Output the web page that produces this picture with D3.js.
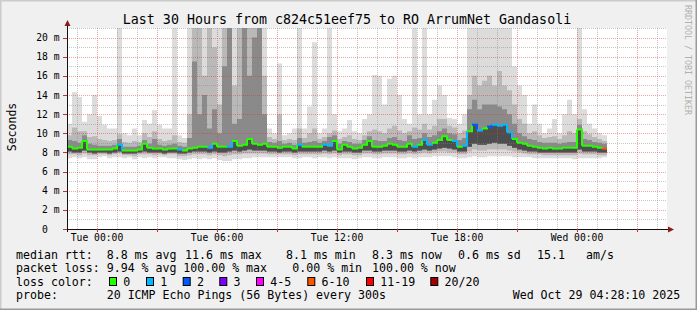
<!DOCTYPE html>
<html><head><meta charset="utf-8">
<script src="https://cdn.jsdelivr.net/npm/d3@7"></script>
<style>
body{margin:0;background:#f0f0f0}
svg{display:block}
text{font-family:"DejaVu Sans Mono",monospace;fill:#000}
</style></head>
<body><svg id="c" width="697" height="310"></svg>
<script>
// ---- data (values in ms) ----
const title = "Last 30 Hours from c824c51eef75 to RO ArrumNet Gandasoli";
const yTickValues = [0,2,4,6,8,10,12,14,16,18,20];
const yTickLabels = ["0  ","2 m","4 m","6 m","8 m","10 m","12 m","14 m","16 m","18 m","20 m"];
const xTickLabels = ["Tue 00:00","Tue 06:00","Tue 12:00","Tue 18:00","Wed 00:00"];
const xTickTimes = ["2025-10-28T00:00Z","2025-10-28T06:00Z","2025-10-28T12:00Z","2025-10-28T18:00Z","2025-10-29T00:00Z"];
const rangeStart = "2025-10-27T22:30Z", rangeEnd = "2025-10-29T04:30Z";
const stepMinutes = 15;
// median rtt per 15-minute step
const med = [8.6,8.4,8.5,9.2,8.3,8.3,8.3,8.3,8.3,8.4,8.8,8.2,8.2,8.2,8.3,8.9,8.5,8.4,8.4,8.3,
8.4,8.4,8.3,8.2,8.4,8.5,8.6,8.6,8.5,8.9,8.6,8.6,8.6,9.2,8.7,8.8,9.4,8.9,8.8,8.9,
8.6,8.6,8.5,8.6,8.6,8.4,8.8,8.6,8.6,8.6,8.6,8.8,8.7,9.2,8.3,8.8,8.6,8.4,8.5,8.8,
9.2,8.6,8.6,8.7,8.9,8.8,8.6,8.6,8.9,8.6,8.8,9.3,8.8,9.0,9.3,9.7,9.3,9.2,8.6,8.7,
10.2,10.9,10.3,10.5,10.7,10.9,10.8,10.9,10.1,9.4,9.0,8.9,8.7,8.6,8.5,8.4,8.5,8.4,8.4,8.5,
8.5,8.5,10.4,8.7,8.7,8.6,8.5,8.4];
// smoke: top of lightest, medium, dark bands
const smokeMax = [11.0,14.3,13.8,11.2,12.0,14.0,11.8,10.9,10.5,10.5,21,10.0,9.8,10.5,9.8,11.4,11.0,12.4,10.9,10.5,
10.5,21,9.8,9.5,21,21,21,21,21,21,21,21,21,21,21,21,21,21,21,21,
10.5,10.0,17.3,9.8,10.0,10.5,21,10.5,12.8,19.5,10.0,10.5,21,12.0,10.2,10.5,11.4,10.2,10.0,11.5,
12.0,16.1,16.0,13.0,15.7,16.0,14.0,11.5,11.0,21,12.0,21,12.0,13.5,15.0,14.0,11.6,11.5,11.0,12.0,
21,21,21,21,21,21,21,21,21,17.0,15.0,14.0,11.0,13.0,11.0,10.0,10.5,11.5,10.0,12.0,
13.5,12.0,21,12.5,11.0,10.5,10.0,9.8];
const smokeMid = [9.8,10.6,10.2,10.2,9.6,9.7,9.4,9.3,9.2,9.3,9.9,9.1,9.0,9.2,9.1,10.0,9.6,10.2,9.4,9.2,
9.3,9.8,9.1,9.0,12.0,21,21,16.0,21,19.0,13.0,21,21,15.0,21,21,21,21,21,16.0,
9.6,9.4,12.0,9.3,9.4,9.3,10.5,9.5,10.0,10.5,9.4,9.6,10.0,10.3,9.4,9.6,9.8,9.4,9.3,9.8,
10.2,10.4,10.2,10.0,10.5,10.8,10.3,10.0,10.2,10.6,10.4,11.0,10.4,10.8,11.5,11.5,10.8,10.6,10.0,10.3,
14.0,16.0,15.0,15.5,16.0,15.0,16.5,15.0,14.5,13.0,11.5,11.0,10.0,10.2,9.8,9.5,9.6,9.7,9.4,9.8,
10.2,10.0,11.5,10.2,9.9,9.6,9.4,9.2];
const smokeDark = [9.3,9.2,9.0,9.8,8.9,8.8,8.7,8.7,8.7,8.8,9.4,8.6,8.6,8.6,8.7,9.3,8.9,9.4,8.8,8.7,
8.8,8.9,8.7,8.6,9.5,17.5,12.0,14.0,10.5,12.5,10.0,17.0,21,11.0,11.5,21,16.0,20.0,21,12.0,
9.1,9.0,9.2,8.9,9.0,8.8,9.5,9.0,9.1,9.2,9.0,9.2,9.6,9.8,8.9,9.2,9.1,8.9,8.9,9.3,
9.7,9.3,9.2,9.2,9.5,9.6,9.3,9.2,9.8,9.4,9.5,10.0,9.6,9.8,10.2,10.5,10.0,9.9,9.3,9.5,
12.5,13.5,12.5,13.0,13.0,13.0,12.8,12.5,12.0,11.0,10.0,9.7,9.4,9.3,9.1,9.0,9.0,9.0,8.9,9.0,
9.1,9.1,10.9,9.4,9.3,9.1,9.0,8.9];
// smoke: bottom of dark, medium, lightest bands
const smokeDarkLow = [8.1,8.0,8.0,8.2,8.0,7.9,8.0,8.0,7.9,8.0,8.1,7.9,7.9,7.9,8.0,8.1,8.0,8.0,8.0,7.9,
8.0,8.0,7.9,7.9,8.0,8.1,8.1,8.1,8.0,8.1,8.0,8.0,8.1,8.2,8.1,8.2,8.3,8.2,8.2,8.2,
8.1,8.1,8.0,8.1,8.1,8.0,8.1,8.1,8.1,8.1,8.1,8.2,8.1,8.2,8.0,8.1,8.1,8.0,8.0,8.2,
8.2,8.1,8.1,8.2,8.2,8.2,8.1,8.1,8.2,8.1,8.2,8.3,8.2,8.3,8.4,8.5,8.4,8.3,8.1,8.1,
8.6,8.9,8.8,8.8,8.9,9.0,8.9,8.9,8.7,8.5,8.3,8.2,8.1,8.1,8.0,8.0,8.0,8.0,8.0,8.0,
8.0,8.0,8.3,8.1,8.1,8.1,8.0,8.0];
const smokeMidLow = [7.8,7.8,7.7,7.9,7.7,7.7,7.8,7.8,7.7,7.8,7.9,7.7,7.7,7.6,7.8,7.8,7.8,7.7,7.8,7.7,
7.8,7.8,7.6,7.6,7.7,7.8,7.8,7.8,7.7,7.8,7.7,7.6,7.7,7.8,7.8,7.9,7.9,7.9,7.9,7.9,
7.8,7.8,7.8,7.8,7.8,7.7,7.8,7.8,7.8,7.8,7.8,7.9,7.8,7.9,7.7,7.8,7.8,7.7,7.7,7.9,
7.9,7.8,7.8,7.9,7.9,7.9,7.8,7.8,7.9,7.8,7.9,8.0,7.9,8.0,8.1,8.1,8.0,8.0,7.8,7.8,
8.1,8.3,8.2,8.2,8.3,8.3,8.3,8.3,8.2,8.1,8.0,7.9,7.8,7.8,7.8,7.7,7.7,7.7,7.7,7.7,
7.7,7.7,7.9,7.8,7.8,7.8,7.7,7.7];
const smokeMin = [7.4,7.5,7.4,7.5,7.3,7.3,7.5,7.6,7.4,7.5,7.5,7.4,7.5,7.3,7.5,7.4,7.5,7.4,7.5,7.5,
7.4,7.4,7.3,7.2,7.3,7.4,7.3,7.4,7.3,7.4,7.2,7.1,7.1,7.3,7.3,7.4,7.4,7.5,7.5,7.5,
7.5,7.5,7.5,7.5,7.5,7.4,7.4,7.5,7.5,7.4,7.5,7.5,7.4,7.5,7.4,7.4,7.4,7.3,7.4,7.5,
7.5,7.4,7.4,7.5,7.5,7.5,7.4,7.4,7.5,7.4,7.5,7.5,7.5,7.6,7.6,7.6,7.6,7.5,7.4,7.4,
7.5,7.6,7.5,7.5,7.6,7.6,7.6,7.6,7.6,7.5,7.5,7.5,7.5,7.4,7.4,7.4,7.4,7.4,7.4,7.4,
7.4,7.3,7.4,7.4,7.4,7.4,7.4,7.5];
// loss class per step (index into lossColors)
const lossClass = [0,0,0,0,0,0,0,0,0,0,1,0,0,0,0,0,0,0,0,0,
0,0,1,0,0,0,0,0,1,0,0,0,1,0,0,0,0,0,0,0,
0,0,0,0,0,0,1,0,0,0,0,1,1,0,0,0,0,0,0,0,
0,0,0,0,0,0,0,0,0,1,0,1,1,0,0,0,0,1,0,1,
0,2,1,0,2,1,1,1,1,0,0,0,0,0,0,0,0,0,0,0,
0,0,0,0,0,0,0,5];
const lossLabels = ["0","1","2","3","4-5","6-10","11-19","20/20"];
const lossColors = ["#26ff00","#00b8ff","#0059ff","#7e00ff","#ff00ff","#ff5500","#ff0000","#a10000"];
const statsRtt = ["median rtt:","8.8 ms avg","11.6 ms max","8.1 ms min","8.3 ms now","0.6 ms sd","15.1","am/s"];
const statsLoss = ["packet loss:","9.94 % avg","100.00 % max","0.00 % min","100.00 % now"];
const probeText = ["probe:","20 ICMP Echo Pings (56 Bytes) every 300s","Wed Oct 29 04:28:10 2025"];

// ---- drawing ----
const svg = d3.select("#c");
const W = 697, H = 310;
const x = d3.scaleUtc().domain([new Date(rangeStart), new Date(rangeEnd)]).range([67, 667]);
const y = d3.scaleLinear().domain([0, 21]).range([229, 28]);

// frame
svg.append("rect").attr("width",W).attr("height",H).attr("fill","#f0f0f0");
svg.append("path").attr("d",`M0,${H} V0 H${W}`).attr("stroke","#cbcbcb").attr("stroke-width",3).attr("fill","none");
svg.append("path").attr("d",`M${W},0 V${H} H0`).attr("stroke","#999999").attr("stroke-width",3).attr("fill","none");
svg.append("rect").attr("x",67).attr("y",28).attr("width",600).attr("height",201).attr("fill","#fff");

const t0 = new Date(rangeStart).getTime();
const n = med.length;
const tAt = i => new Date(t0 + i * stepMinutes * 60000);
const pts = d3.range(n + 1).map(i => {
  const k = Math.min(i, n - 1);
  return {t: tAt(i), med: med[k], max: smokeMax[k], mid: smokeMid[k], dk: smokeDark[k],
          dkl: smokeDarkLow[k], midl: smokeMidLow[k], min: smokeMin[k]};
});
svg.append("clipPath").attr("id","pc").append("rect")
  .attr("x",67).attr("y",28).attr("width",600).attr("height",201);
const g = svg.append("g").attr("clip-path","url(#pc)");
const band = (lo, hi, col) => g.append("path").attr("fill", col)
  .attr("d", d3.area().curve(d3.curveStepAfter).x(d => x(d.t)).y0(d => y(d[lo])).y1(d => y(d[hi]))(pts));
band("min","max","#dcdcdc");
band("midl","mid","#b9b9b9");
band("dkl","dk","#8a8a8a");
band("dkl","med","#4e4e4e");

// grid
const gridG = svg.append("g");
const hours = d3.utcHour.range(new Date(rangeStart), new Date(rangeEnd));
hours.forEach(h => {
  const major = h.getUTCHours() % 3 === 0;
  gridG.append("line").attr("x1",x(h)+0.5).attr("x2",x(h)+0.5).attr("y1",28).attr("y2",229)
    .attr("stroke", major ? "rgba(222,48,48,0.45)" : "rgba(130,130,130,0.45)")
    .attr("stroke-dasharray","1,1");
});
d3.range(1, 22).forEach(v => {
  const major = v % 2 === 0;
  gridG.append("line").attr("x1",67).attr("x2",667).attr("y1",Math.round(y(v))+0.5).attr("y2",Math.round(y(v))+0.5)
    .attr("stroke", major ? "rgba(222,48,48,0.45)" : "rgba(130,130,130,0.45)")
    .attr("stroke-dasharray","1,1");
});

// median line coloured by loss
for (let i = 0; i < n; i++) {
  let d = `M${x(tAt(i))},${y(med[i])} H${x(tAt(i+1))}`;
  if (i < n - 1) d += ` V${y(med[i+1])}`;
  svg.append("path").attr("d", d).attr("fill","none").attr("stroke", lossColors[lossClass[i]])
    .attr("stroke-width", 2);
}

// axes
svg.append("line").attr("x1",63).attr("x2",668).attr("y1",229.5).attr("y2",229.5).attr("stroke","#111");
svg.append("line").attr("x1",67.5).attr("x2",67.5).attr("y1",232).attr("y2",25).attr("stroke","#111");
svg.append("path").attr("d","M64.5,26 L67.5,20 L70.5,26 Z").attr("fill","#8b1a1a");
svg.append("path").attr("d","M668,226.5 L674,229.5 L668,232.5 Z").attr("fill","#8b1a1a");
hours.filter(h => h.getUTCHours() % 3 === 0).forEach(h => {
  svg.append("line").attr("x1",x(h)+0.5).attr("x2",x(h)+0.5).attr("y1",229).attr("y2",232).attr("stroke","#c03030");
});
yTickValues.forEach((v, i) => {
  svg.append("line").attr("x1",63).attr("x2",67).attr("y1",Math.round(y(v))+0.5).attr("y2",Math.round(y(v))+0.5).attr("stroke","#c03030");
  svg.append("text").attr("x",59.5).attr("y",y(v)+3.5).attr("text-anchor","end")
    .attr("font-size","9.7px").attr("xml:space","preserve").style("white-space","pre").text(yTickLabels[i]);
});
xTickTimes.forEach((t, i) => {
  svg.append("text").attr("x",x(new Date(t))).attr("y",241).attr("text-anchor","middle")
    .attr("font-size","9.7px").text(xTickLabels[i]);
});

// titles
svg.append("text").attr("x",347).attr("y",23.5).attr("text-anchor","middle").attr("font-size","13.3px").text(title);
svg.append("text").attr("transform","translate(15.5,127) rotate(-90)").attr("text-anchor","middle")
  .attr("font-size","11.5px").text("Seconds");
svg.append("text").attr("transform","translate(685,5) rotate(90)").attr("font-size","8.3px")
  .style("fill","#b0b0b0").text("RRDTOOL / TOBI OETIKER");

// legend
const lf = "11.6px";
const put = (s, xx, yy) => svg.append("text").attr("x",xx).attr("y",yy).attr("font-size",lf).text(s);
const rttX = [16,106.7,185,286,372,458,537,586];
statsRtt.forEach((s,i) => put(s, rttX[i], 258.5));
const lossX = [16,106.7,183.3,292.3,372];
statsLoss.forEach((s,i) => put(s, lossX[i], 272));
put("loss color:", 16, 285.7);
const boxX = [109,146,182.7,219.3,256,307.3,366,430.3];
lossLabels.forEach((s,i) => {
  svg.append("rect").attr("x",boxX[i]+0.5).attr("y",277.5).attr("width",7).attr("height",8)
    .attr("fill",lossColors[i]).attr("stroke","#000").attr("stroke-width",1);
  put(s, boxX[i]+14.3, 285.7);
});
const probeX = [16,106.7,512.7];
probeText.forEach((s,i) => put(s, probeX[i], 299.3));
</script></body></html>
